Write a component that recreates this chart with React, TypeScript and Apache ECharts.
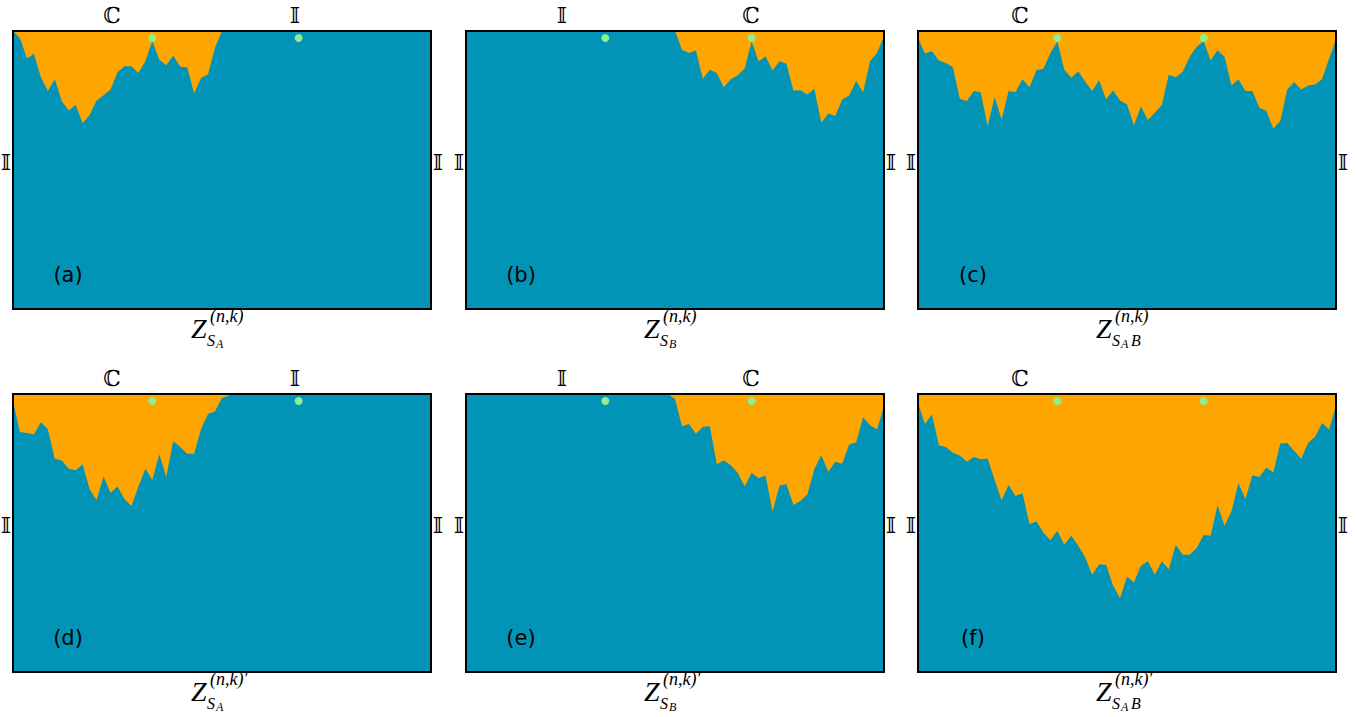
import React, { useEffect, useRef } from "react";
import * as echarts from "echarts";

// depth of the boundary below the top edge, in % of panel height (0 = top)
const zSA = [0, 2.5, 9.9, 8.2, 16.6, 21.6, 17.4, 25.2, 28.6, 26.6, 33.2, 30.2, 25.0, 23.1, 21.0, 14.8, 12.7, 12.7, 15.1, 10.9, 3.7, 10.3, 12.3, 8.8, 12.9, 13.0, 22.5, 16.8, 15.6, 5.9, 0,
  0, 0, 0, 0, 0, 0, 0, 0, 0, 0, 0, 0, 0, 0, 0, 0, 0, 0, 0, 0, 0, 0, 0, 0, 0, 0, 0, 0, 0, 0];
const zSB = [0, 0, 0, 0, 0, 0, 0, 0, 0, 0, 0, 0, 0, 0, 0, 0, 0, 0, 0, 0, 0, 0, 0, 0, 0, 0, 0, 0, 0, 0,
  0, 6.7, 7.9, 7.0, 17.2, 13.9, 15.1, 20.2, 17.4, 15.9, 13.5, 3.7, 10.9, 9.1, 14.2, 10.9, 11.8, 21.4, 21.3, 22.8, 20.8, 33.0, 29.7, 30.6, 24.6, 23.2, 18.0, 22.0, 10.9, 7.9, 1.9];
const zSAB = [2.5, 8.1, 7.3, 10.6, 11.5, 13.0, 24.4, 25.2, 21.6, 22.0, 34.2, 23.7, 31.8, 21.6, 21.9, 17.4, 20.2, 14.1, 13.6, 7.9, 3.7,
  13.9, 16.8, 14.5, 18.3, 21.6, 17.7, 24.6, 21.3, 25.0, 26.4, 33.9, 27.2, 32.0, 29.4, 26.6, 15.7, 16.6, 14.7, 9.3, 5.7, 3.7,
  10.5, 6.9, 9.3, 19.6, 17.4, 21.6, 21.6, 27.6, 28.8, 35.1, 32.4, 21.0, 18.4, 21.0, 19.6, 19.2, 17.4, 10.0, 3.1];
const zSAp = [2.6, 13.7, 14.0, 14.6, 10.2, 12.7, 23.3, 23.9, 26.9, 27.4, 25.3, 34.3, 38.1, 29.7, 35.5, 33.3, 37.8, 40.3, 33.3, 26.9, 30.9,
  21.7, 29.9, 17.0, 19.1, 21.5, 21.5, 12.5, 7.2, 6.2, 1.4, 0.5,
  0, 0, 0, 0, 0, 0, 0, 0, 0, 0, 0, 0, 0, 0, 0, 0, 0, 0, 0, 0, 0, 0, 0, 0, 0, 0, 0, 0, 0];
const zSBp = [0, 0, 0, 0, 0, 0, 0, 0, 0, 0, 0, 0, 0, 0, 0, 0, 0, 0, 0, 0, 0, 0, 0, 0, 0, 0, 0, 0, 0, 0,
  1.8, 11.6, 10.8, 14.3, 11.8, 11.6, 25.3, 23.9, 25.6, 28.3, 33.3, 28.3, 30.3, 29.3, 42.3, 32.9, 32.5, 39.9, 38.5, 36.1, 27.1,
  22.0, 28.0, 24.4, 25.1, 18.2, 17.4, 8.4, 11.2, 12.8, 4.4];
const zSABp = [3.2, 10.8, 7.4, 18.4, 19.1, 21.1, 22.1, 24.4, 22.7, 23.5, 23.2, 30.9, 38.2, 32.7, 36.7, 35.7, 46.8, 45.9, 49.8, 52.6, 49.2,
  54.2, 51.0, 54.6, 58.8, 65.0, 61.2, 61.4, 68.9, 73.5, 65.7, 67.7, 61.8, 60.2, 65.0, 60.2, 63.0, 54.2, 57.8, 57.8, 55.4,
  50.7, 51.0, 40.0, 47.4, 42.2, 32.0, 37.8, 29.2, 29.9, 26.4, 28.2, 17.8, 17.6, 20.5, 23.3, 17.6, 15.4, 10.4, 12.8, 4.2];

const panelData = [zSA, zSB, zSAB, zSAp, zSBp, zSABp];
const panelTags = ["(a)", "(b)", "(c)", "(d)", "(e)", "(f)"];
const dotIdx = [20, 41];
const dotDepth = 2.5;
// top labels: [text, x]
const topLabels = [
  [["ℂ", 112], ["𝕀", 295]],
  [["𝕀", 562], ["ℂ", 751]],
  [["ℂ", 1020]],
];
const subScripts = [["S", "A"], ["S", "B"], ["S", "A", "B"]];

const TEAL = "#0294b6";
const ORANGE = "#ffa500";
const GREEN = "#90ee90";
const DS_FONT = '"DejaVu Serif", "DejaVu Sans", serif';

const LEFTS = [13, 466, 918];
const TOPS = [31, 394];
const W = 418;
const H = 278;

export default function App() {
  const ref = useRef<HTMLDivElement>(null);
  useEffect(() => {
    if (!ref.current) return;
    const chart = echarts.init(ref.current, null, { renderer: "svg" });
    const grid: any[] = [];
    const xAxis: any[] = [];
    const yAxis: any[] = [];
    const series: any[] = [];
    const graphic: any[] = [];
    for (let k = 0; k < 6; k++) {
      const col = k % 3;
      const row = Math.floor(k / 3);
      const left = LEFTS[col];
      const top = TOPS[row];
      grid.push({ left, top, width: W, height: H, show: true, backgroundColor: TEAL, borderWidth: 0 });
      xAxis.push({ type: "value", gridIndex: k, min: 0, max: 60, show: false });
      yAxis.push({ type: "value", gridIndex: k, min: 0, max: 100, inverse: true, show: false });
      series.push({
        type: "line", xAxisIndex: k, yAxisIndex: k, silent: true,
        data: panelData[k].map((v, i) => [i, v]),
        symbol: "none", showSymbol: false,
        lineStyle: { width: 0 },
        areaStyle: { color: ORANGE, opacity: 1 },
        z: 2,
      });
      series.push({
        type: "scatter", xAxisIndex: k, yAxisIndex: k, silent: true,
        data: dotIdx.map((i) => [i, dotDepth]),
        symbolSize: 8, itemStyle: { color: GREEN, opacity: 1 }, z: 5,
      });
      // border
      graphic.push({
        type: "rect", z: 100, silent: true,
        shape: { x: left, y: top, width: W, height: H },
        style: { fill: "none", stroke: "#000", lineWidth: 2 },
      });
      // panel tag
      graphic.push({
        type: "text", z: 101, x: left + 55, y: top + H - 34,
        style: { text: panelTags[k], font: '21px "DejaVu Sans"', fill: "#000", align: "center", verticalAlign: "middle" },
      });
      // top labels
      for (const [t, x] of topLabels[col] as any[]) {
        graphic.push({
          type: "text", x, y: top - 16,
          style: { text: t, font: "22px " + DS_FONT, fill: "#000", align: "center", verticalAlign: "middle" },
        });
      }
      // side labels
      graphic.push({
        type: "text", x: left - 7, y: top + 131,
        style: { text: "𝕀", font: "22px " + DS_FONT, fill: "#000", align: "center", verticalAlign: "middle" },
      });
      graphic.push({
        type: "text", x: left + W + 7, y: top + 131,
        style: { text: "𝕀", font: "22px " + DS_FONT, fill: "#000", align: "center", verticalAlign: "middle" },
      });
      // bottom label Z_{...}^{(n,k)}
      const cx = left + W / 2;
      const zx = cx - 31;
      const zy = top + H + 19;
      const serif = '"Liberation Serif", serif';
      graphic.push({
        type: "text", x: zx, y: zy,
        style: { text: "Z", font: "italic 28px " + serif, fill: "#000", align: "left", verticalAlign: "middle" },
      });
      graphic.push({
        type: "text", x: zx + 19, y: zy - 12,
        style: { text: row === 0 ? "(n,k)" : "(n,k)′", font: "italic 18px " + serif, fill: "#000", align: "left", verticalAlign: "middle" },
      });
      const subs = subScripts[col];
      graphic.push({
        type: "text", x: zx + 16, y: zy + 12,
        style: { text: "S", font: "italic 16px " + serif, fill: "#000", align: "left", verticalAlign: "middle" },
      });
      graphic.push({
        type: "text", x: zx + 25, y: zy + 16,
        style: { text: subs[1], font: "italic 12px " + serif, fill: "#000", align: "left", verticalAlign: "middle" },
      });
      if (subs.length > 2) {
        graphic.push({
          type: "text", x: zx + 35, y: zy + 12,
          style: { text: subs[2], font: "italic 16px " + serif, fill: "#000", align: "left", verticalAlign: "middle" },
        });
      }
    }
    chart.setOption({ animation: false, grid, xAxis, yAxis, series, graphic });
    return () => chart.dispose();
  }, []);
  return <div ref={ref} style={{ position: "absolute", left: 0, top: 0, width: 1357, height: 717, background: "#fff" }} />;
}
